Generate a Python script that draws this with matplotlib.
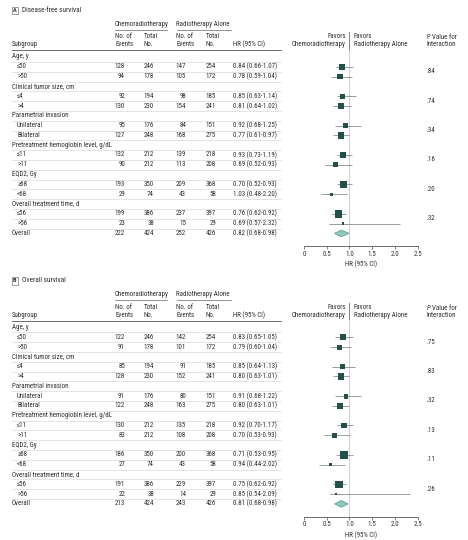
import numpy as np
import matplotlib
matplotlib.use("Agg")
import matplotlib.pyplot as plt
from matplotlib.patches import Rectangle
from matplotlib import font_manager
from matplotlib.textpath import TextPath
from matplotlib.font_manager import FontProperties

# pick a narrow sans that is installed
installed = set(f.name for f in font_manager.fontManager.ttflist)
candidates = ['Roboto Condensed', 'Liberation Sans Narrow', 'Arial Narrow', 'Fira Sans Condensed',
              'PT Sans Narrow', 'Archivo Narrow', 'IBM Plex Sans Condensed', 'Open Sans Condensed',
              'Asap Condensed', 'Barlow Semi Condensed', 'Liberation Sans']
FONT = next(c for c in candidates if c in installed)
plt.rcParams['font.family'] = [FONT, 'DejaVu Sans']

# ---- data ----
categories = ["Age, y", "Clinical tumor size, cm", "Parametrial invasion",
              "Pretreatment hemoglobin level, g/dL", "EQD2, Gy", "Overall treatment time, d"]
subgroups = ["\u226450", ">50", "\u22644", ">4", "Unilateral", "Bilateral",
             "\u226411", ">11", "\u226568", "<68", "\u226456", ">56"]

crt_total = [246, 178, 194, 230, 176, 248, 212, 212, 350, 74, 386, 38]
rt_total = [254, 172, 185, 241, 151, 275, 218, 208, 368, 58, 397, 29]

# A: disease-free survival
dfs_crt_events = [128, 94, 92, 130, 95, 127, 132, 90, 193, 29, 199, 23]
dfs_rt_events = [147, 105, 98, 154, 84, 168, 139, 113, 209, 43, 237, 15]
dfs_hr_text = ["0.84 (0.66-1.07)", "0.78 (0.59-1.04)", "0.85 (0.63-1.14)", "0.81 (0.64-1.02)",
               "0.92 (0.68-1.25)", "0.77 (0.61-0.97)", "0.93 (0.73-1.19)", "0.69 (0.52-0.93)",
               "0.70 (0.52-0.93)", "1.03 (0.48-2.20)", "0.76 (0.62-0.92)", "0.69 (0.57-2.32)"]
dfs_p = [".84", ".74", ".34", ".16", ".20", ".32"]
# points as drawn in the figure
dfs_pt = [0.835, 0.79, 0.85, 0.81, 0.92, 0.81, 0.86, 0.70, 0.865, 0.60, 0.755, 0.85]
dfs_lo = [0.70, 0.59, 0.72, 0.63, 0.68, 0.63, 0.72, 0.46, 0.72, 0.37, 0.62, 0.55]
dfs_hi = [1.07, 1.05, 1.14, 1.03, 1.25, 0.99, 1.05, 1.05, 1.05, 0.95, 0.93, 2.11]
dfs_overall = [222, 424, 252, 426, "0.82 (0.68-0.98)"]
dfs_overall_ci = [0.82, 0.67, 0.99]

# B: overall survival
os_crt_events = [122, 91, 85, 128, 91, 122, 130, 83, 186, 27, 191, 22]
os_rt_events = [142, 101, 91, 152, 80, 163, 135, 108, 200, 43, 229, 14]
os_hr_text = ["0.83 (0.65-1.05)", "0.79 (0.60-1.04)", "0.85 (0.64-1.13)", "0.80 (0.63-1.01)",
              "0.91 (0.68-1.22)", "0.80 (0.63-1.01)", "0.92 (0.70-1.17)", "0.70 (0.53-0.93)",
              "0.71 (0.53-0.95)", "0.94 (0.44-2.02)", "0.75 (0.62-0.92)", "0.85 (0.54-2.09)"]
os_p = [".75", ".83", ".32", ".13", ".11", ".26"]
os_pt = [0.86, 0.786, 0.84, 0.815, 0.925, 0.79, 0.89, 0.675, 0.88, 0.58, 0.77, 0.705]
os_lo = [0.675, 0.58, 0.62, 0.64, 0.675, 0.62, 0.73, 0.43, 0.71, 0.32, 0.63, 0.565]
os_hi = [1.08, 1.04, 1.13, 1.0, 1.26, 0.99, 1.07, 1.02, 1.08, 0.9, 0.93, 2.32]
os_overall = [213, 424, 243, 426, "0.81 (0.68-0.98)"]
os_overall_ci = [0.82, 0.675, 0.97]

xticks = [0, 0.5, 1.0, 1.5, 2.0, 2.5]
xticklabels = ["0", "0.5", "1.0", "1.5", "2.0", "2.5"]

# ---- style ----
W, H = 468, 540
TXT = '#2e2e2e'
SQ = '#23504a'
# size the font so "Chemoradiotherapy" is ~53 px wide, like the reference
w10 = TextPath((0, 0), "Chemoradiotherapy", size=10, prop=FontProperties(family=FONT)).get_extents().width
FS = min(6.0, 10 * 53 / (w10 * 100 / 72))
row0, dy = 57, 9.8

fig = plt.figure(figsize=(W / 100, H / 100), dpi=100)
ax = fig.add_axes([0, 0, 1, 1])
ax.set_xlim(0, W)
ax.set_ylim(H, 0)
ax.axis('off')


def draw_panel(oy, letter, title, crt_ev, rt_ev, hr_text, pvals, pt, lo, hi, overall, overall_ci, p_italic):
    # panel label
    ax.add_patch(Rectangle((11.5, oy + 6.5), 6.5, 7.5, fill=False, lw=0.5, ec='#777777'))
    ax.text(14.75, oy + 10.4, letter, fontsize=FS * 0.9, fontweight='bold', ha='center', va='center', color=TXT)
    ax.text(21.5, oy + 10.5, title, fontsize=FS * 1.05, va='center', color=TXT)

    # column headers
    ax.text(115, oy + 24, "Chemoradiotherapy", fontsize=FS, va='center', color=TXT)
    ax.plot([115, 167], [oy + 29.5, oy + 29.5], color='#666666', lw=0.5)
    ax.text(176.5, oy + 24, "Radiotherapy Alone", fontsize=FS, va='center', color=TXT)
    ax.plot([176.5, 231], [oy + 29.5, oy + 29.5], color='#666666', lw=0.5)
    for x, t in [(115, "No. of\nEvents"), (144, "Total\nNo."), (176.5, "No. of\nEvents"), (206, "Total\nNo.")]:
        ax.text(x, oy + 41, t, fontsize=FS, va='center', color=TXT, linespacing=1.2)
    ax.text(12, oy + 44.7, "Subgroup", fontsize=FS, va='center', color=TXT)
    ax.text(233, oy + 44.7, "HR (95% CI)", fontsize=FS, va='center', color=TXT)
    ax.plot([12, 281], [oy + 50, oy + 50], color='#555555', lw=0.6)

    ax.text(346, oy + 41, "Favors\nChemoradiotherapy", fontsize=FS, va='center', ha='right',
            multialignment='right', color=TXT, linespacing=1.2)
    ax.text(354, oy + 41, "Favors\nRadiotherapy Alone", fontsize=FS, va='center', ha='left',
            color=TXT, linespacing=1.2)
    ax.text(426.5, oy + 37.7, "P", fontsize=FS, va='center', color=TXT,
            style='italic' if p_italic else 'normal')
    ax.text(432.5, oy + 37.7, "Value for", fontsize=FS, va='center', color=TXT)
    ax.text(426.5, oy + 44.7, "Interaction", fontsize=FS, va='center', color=TXT)

    # table rows
    rows = []
    for c, cat in enumerate(categories):
        yc = oy + row0 + 3 * c * dy
        ax.text(12, yc, cat, fontsize=FS, va='center', color=TXT)
        for k in range(2):
            j = 2 * c + k
            y = yc + (k + 1) * dy
            rows.append(y)
            ax.text(17, y, subgroups[j], fontsize=FS, va='center', color=TXT)
            for x, v in [(125, crt_ev[j]), (154, crt_total[j]), (186, rt_ev[j]), (216, rt_total[j])]:
                ax.text(x, y, str(v), fontsize=FS, va='center', ha='right', color=TXT)
            ax.text(233, y, hr_text[j], fontsize=FS, va='center', color=TXT)
        ax.text(426.5, yc + 1.5 * dy, pvals[c], fontsize=FS, va='center', color=TXT)
    y_ov = oy + row0 + 18 * dy
    ax.text(12, y_ov, "Overall", fontsize=FS, va='center', color=TXT)
    for x, v in [(125, overall[0]), (154, overall[1]), (186, overall[2]), (216, overall[3])]:
        ax.text(x, y_ov, str(v), fontsize=FS, va='center', ha='right', color=TXT)
    ax.text(233, y_ov, overall[4], fontsize=FS, va='center', color=TXT)
    for i in range(18):
        yl = oy + row0 + i * dy + dy / 2
        ax.plot([12, 281], [yl, yl], color='#d9d9d9', lw=0.5)

    # forest plot
    top, bot = oy + 32, oy + 246
    fa = fig.add_axes([304 / W, (H - bot) / H, 113.7 / W, (bot - top) / H])
    fa.set_xlim(0, 2.5)
    fa.set_ylim(bot, top)
    fa.patch.set_alpha(0)
    for s in ['top', 'right', 'left']:
        fa.spines[s].set_visible(False)
    fa.spines['bottom'].set_color('#555555')
    fa.spines['bottom'].set_linewidth(0.6)
    fa.set_yticks([])
    fa.set_xticks(xticks)
    fa.set_xticklabels(xticklabels)
    fa.tick_params(axis='x', labelsize=FS, length=2, width=0.5, colors='#555555', labelcolor=TXT, pad=1.5)
    fa.set_xlabel("HR (95% CI)", fontsize=FS, color=TXT, labelpad=2)
    fa.axvline(1.0, color='#bbbbbb', lw=0.5, zorder=1)
    fa.plot([1.0, 1.0], [top, oy + 49], color='#777777', lw=0.6, zorder=1)

    rows = np.array(rows)
    fa.hlines(rows, lo, hi, color='#8c8c8c', lw=0.6, zorder=2)
    n_ev = np.array(crt_ev) + np.array(rt_ev)
    fa.scatter(pt, rows, marker='s', s=n_ev * 0.07, color=SQ, edgecolors='none', zorder=3)
    c0, l0, h0 = overall_ci
    fa.fill([l0, c0, h0, c0], [y_ov, y_ov - 3.3, y_ov, y_ov + 3.3], facecolor='#8fcabe',
            edgecolor='#5d9f94', lw=0.6, zorder=3)


draw_panel(0, "A", "Disease-free survival", dfs_crt_events, dfs_rt_events, dfs_hr_text, dfs_p,
           dfs_pt, dfs_lo, dfs_hi, dfs_overall, dfs_overall_ci, False)
draw_panel(270.5, "B", "Overall survival", os_crt_events, os_rt_events, os_hr_text, os_p,
           os_pt, os_lo, os_hi, os_overall, os_overall_ci, True)

fig.savefig("out.png", dpi=100)
